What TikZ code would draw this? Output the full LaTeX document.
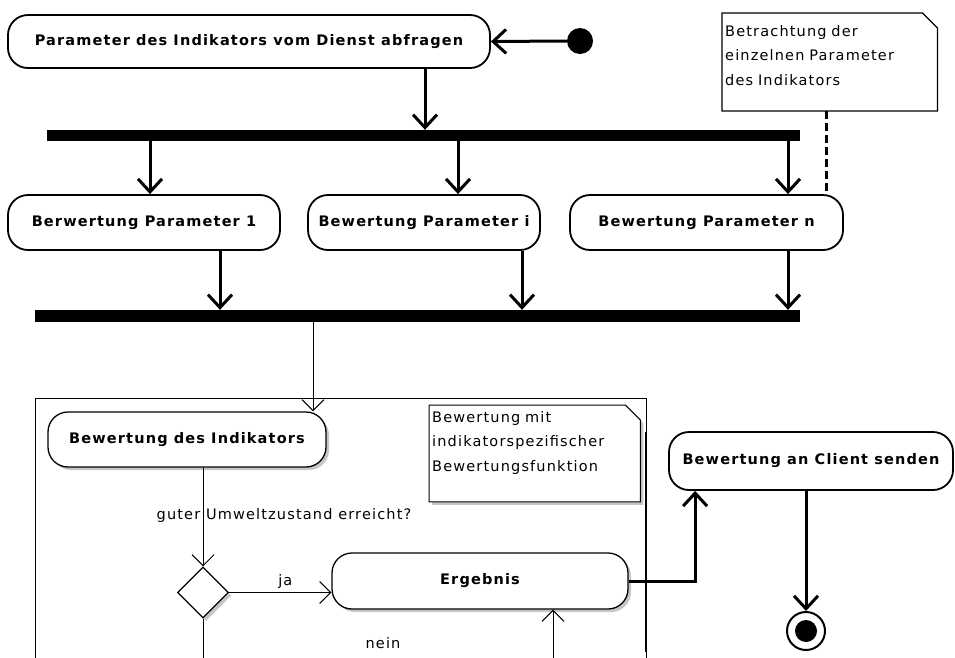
\documentclass[tikz,border=0pt]{standalone}
\usepackage{fontspec}
\setmainfont{DejaVu Sans}[LetterSpace=8]
\usepackage{tikz}
\usetikzlibrary{arrows.meta,positioning,shapes.geometric,shadows}
\pgfdeclarelayer{background}
\pgfsetlayers{background,main}

\begin{document}
\begin{tikzpicture}[
  x=1pt, y=-1pt,
  act/.style={draw, fill=white, line width=1.8pt, rounded corners=20pt, inner sep=0pt, font=\fontsize{14.5}{16}\selectfont\bfseries},
  inact/.style={act, line width=1.3pt, drop shadow={shadow xshift=3pt, shadow yshift=-3pt, opacity=0.45}},
  bar/.style={fill=black, inner sep=0pt},
  note/.style={anchor=north west, align=left, inner xsep=3pt, inner ysep=8pt, font=\fontsize{14.5}{24.5}\selectfont},
  lbl/.style={font=\fontsize{14.5}{16}\selectfont},
  arr/.style={-{Straight Barb[length=13pt, width=24pt]}, line width=3pt},
  tarr/.style={-{Straight Barb[length=11pt, width=22pt]}, line width=1pt},
]
\useasboundingbox (0,0) rectangle (955,657);
\clip (0,0) rectangle (955,657);

% query and fork
\node[act, minimum width=482pt, minimum height=53pt] (query) at (249,41.5) {Parameter des Indikators vom Dienst abfragen};
\node[circle, fill=black, minimum size=26pt, inner sep=0pt] (start) at (580,41) {};
\node[bar, minimum width=753pt, minimum height=11pt] (fork) at (423.5,135.5) {};
\node[act, minimum width=272pt, minimum height=55pt] (p1) at (144,222.5) {Berwertung Parameter 1};
\node[act, minimum width=232pt, minimum height=55pt] (pmid) at (424,222.5) {Bewertung Parameter i};
\node[act, minimum width=273pt, minimum height=55pt] (pn) at (706.5,222.5) {Bewertung Parameter n};
\node[bar, minimum width=765pt, minimum height=12pt] (join) at (417.5,316) {};
\node[note, text width=209pt, inner ysep=12pt] (hint) at (722,13) {Betrachtung der\\einzelnen Parameter\\des Indikators\\[-11pt]\mbox{}};
\draw[line width=1.2pt] (hint.south west) -- (hint.north west) -- ([xshift=-15pt]hint.north east)
  -- ([yshift=-15pt]hint.north east) -- (hint.south east) -- cycle;
\draw[line width=3pt, dash pattern=on 8pt off 4pt] ([xshift=-3.5pt]hint.south) -- ([xshift=-3.5pt]hint.south |- pn.north);

\draw[arr] (start.west) -- (query.east);
\draw[arr] ([xshift=176pt]query.south) -- ([xshift=176pt]query.south |- fork.north);
\foreach \xa/\nd in {150/p1, 458/pmid, 788/pn}
  \draw[arr] (\xa,0 |- fork.south) -- (\xa,0 |- \nd.north);
\foreach \xa/\nd in {220/p1, 522/pmid, 788/pn}
  \draw[arr] (\xa,0 |- \nd.south) -- (\xa,0 |- join.north);

% evaluation frame
\draw (35,398) rectangle (646,700);
\draw[line width=2.5pt] (646,432) -- (646,652);
\node[inact, minimum width=278pt, minimum height=55pt] (evalind) at (187,439.5) {Bewertung des Indikators};
\draw[tarr] (313,0 |- join.south) -- (313,0 |- evalind.north);
\node[note, text width=205pt, inner ysep=6pt] (hint2) at (429,405) {Bewertung mit\\indikatorspezifischer\\Bewertungsfunktion\\\mbox{}};
\begin{pgfonlayer}{background}
\draw[fill=white, line width=1pt, drop shadow={shadow xshift=3pt, shadow yshift=-3pt, opacity=0.45}]
  (hint2.south west) -- (hint2.north west) -- ([xshift=-15pt]hint2.north east)
  -- ([yshift=-15pt]hint2.north east) -- (hint2.south east) -- cycle;
\end{pgfonlayer}
\node[diamond, draw, fill=white, line width=1.2pt, minimum size=51pt, inner sep=0pt,
  drop shadow={shadow xshift=3pt, shadow yshift=-3pt, opacity=0.45}] (dec) at (203,592.5) {};
\node[inact, minimum width=296pt, minimum height=56pt] (res) at (480,581) {Ergebnis};
\draw[tarr] (evalind.south -| dec.north) -- (dec.north)
  node[lbl, pos=0.48, xshift=81pt] {guter Umweltzustand erreicht?};
\draw[tarr] (dec.east) -- (dec.east -| res.west) node[lbl, above, pos=0.55] {ja};
\node[lbl] (nein) at (383,643) {nein};
\coordinate (decout) at (203,700);
\coordinate (back) at (553,700);
\draw[line width=1pt] (dec.south) -- (decout);
\draw[tarr] (back) -- (back |- res.south);

% send and stop
\node[act, minimum width=284pt, minimum height=58pt] (send) at (811,461) {Bewertung an Client senden};
\draw[arr] (res.east) -| ([xshift=27pt]send.south west);
\node[circle, draw, line width=2pt, minimum size=38pt, inner sep=0pt] (stop) at (806,631) {};
\fill (stop) circle (11pt);
\draw[arr] (stop |- send.south) -- (stop.north);
\end{tikzpicture}
\end{document}
